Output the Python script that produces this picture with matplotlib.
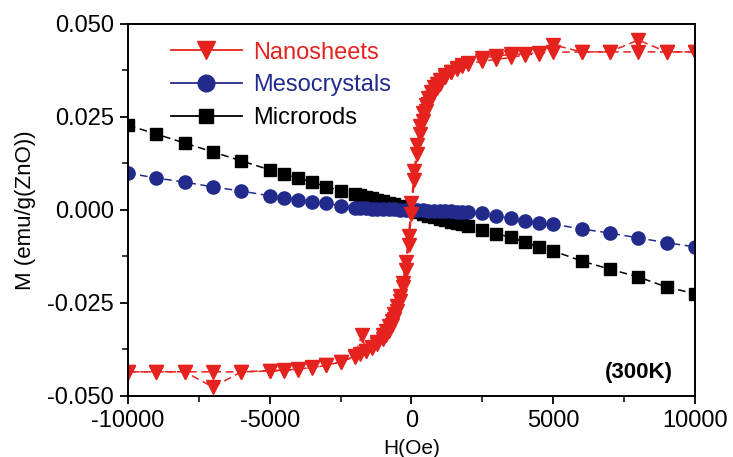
import matplotlib
matplotlib.use("Agg")
import matplotlib.pyplot as plt
from matplotlib.lines import Line2D
from matplotlib.ticker import MultipleLocator, FormatStrFormatter

plt.rcParams['font.family'] = ['Liberation Sans', 'DejaVu Sans']
plt.rcParams['axes.unicode_minus'] = False

# Nanosheets: descending branch then ascending branch
nano_h_down = [10000, 9000, 8000, 7000, 6000, 5000, 4500, 4000, 3500, 3000, 2500, 2000,
               1800, 1600, 1400, 1200, 1000, 900, 800, 700, 600, 500, 400, 300, 200, 100, 0,
               -100, -200, -300, -400, -500, -600, -700, -800, -900, -1000, -1200, -1400,
               -1600, -1800, -2000, -2500, -3000, -3500, -4000, -4500, -5000, -6000, -7000,
               -8000, -9000, -10000]
nano_m_down = [0.0425, 0.0425, 0.0457, 0.0425, 0.0425, 0.0444, 0.0420, 0.0417, 0.0410, 0.0405,
               0.0400, 0.0393, 0.0388, 0.0381, 0.0372, 0.0362, 0.0350, 0.0340, 0.0330, 0.0318,
               0.0302, 0.0283, 0.0260, 0.0225, 0.0175, 0.0105, 0.0020, -0.0070, -0.0140,
               -0.0195, -0.0232, -0.0258, -0.0280, -0.0298, -0.0313, -0.0326, -0.0337,
               -0.0355, -0.0368, -0.0378, -0.0386, -0.0395, -0.0408, -0.0418, -0.0424,
               -0.0429, -0.0432, -0.0433, -0.0435, -0.0476, -0.0435, -0.0435, -0.0435]
nano_h_up = [-10000, -9000, -8000, -7000, -6000, -5000, -4500, -4000, -3500, -3000, -2500,
             -2000, -1750, -1600, -1400, -1200, -1000, -900, -800, -700, -600, -500, -400,
             -300, -200, -100, 0, 100, 200, 300, 400, 500, 600, 700, 800, 900, 1000, 1200,
             1400, 1600, 1800, 2000, 2500, 3000, 3500, 4000, 4500, 5000, 6000, 7000, 8000,
             9000, 10000]
nano_m_up = [-0.0435, -0.0435, -0.0435, -0.0435, -0.0435, -0.0432, -0.0430, -0.0428, -0.0423,
             -0.0418, -0.0408, -0.0393, -0.0336, -0.0380, -0.0370, -0.0360, -0.0347, -0.0337,
             -0.0325, -0.0310, -0.0293, -0.0272, -0.0245, -0.0208, -0.0160, -0.0095, -0.0010,
             0.0080, 0.0150, 0.0203, 0.0240, 0.0265, 0.0285, 0.0302, 0.0316, 0.0328, 0.0340,
             0.0357, 0.0370, 0.0380, 0.0389, 0.0396, 0.0408, 0.0414, 0.0418, 0.0420, 0.0422,
             0.0424, 0.0425, 0.0425, 0.0425, 0.0425, 0.0425]

# Mesocrystals
meso_h = [-10000, -9000, -8000, -7000, -6000, -5000, -4500, -4000, -3500, -3000, -2500,
          -2000, -1800, -1600, -1400, -1200, -1000, -800, -600, -400, -200, 0,
          200, 400, 600, 800, 1000, 1200, 1400, 1600, 1800, 2000,
          2500, 3000, 3500, 4000, 4500, 5000, 6000, 7000, 8000, 9000, 10000]
meso_m = [0.0099, 0.0086, 0.0075, 0.0062, 0.0051, 0.0038, 0.0032, 0.0027, 0.0022, 0.0019, 0.0011,
          0.0006, 0.0005, 0.0005, 0.0004, 0.0004, 0.0003, 0.0003, 0.0002, 0.0001, 0.0001, 0.0,
          -0.0001, -0.0001, -0.0002, -0.0003, -0.0003, -0.0004, -0.0004, -0.0005, -0.0005, -0.0006,
          -0.0009, -0.0017, -0.0022, -0.0030, -0.0035, -0.0038, -0.0051, -0.0062, -0.0075,
          -0.0088, -0.0099]

# Microrods
micro_h = [-10000, -9000, -8000, -7000, -6000, -5000, -4500, -4000, -3500, -3000, -2500,
           -2000, -1800, -1600, -1400, -1200, -1000, -800, -600, -400, -200, 0,
           200, 400, 600, 800, 1000, 1200, 1400, 1600, 1800, 2000,
           2500, 3000, 3500, 4000, 4500, 5000, 6000, 7000, 8000, 9000, 10000]
micro_m = [0.0228, 0.0204, 0.0180, 0.0156, 0.0132, 0.0108, 0.0097, 0.0086, 0.0074, 0.0063, 0.0052,
           0.0043, 0.0039, 0.0035, 0.0031, 0.0027, 0.0023, 0.0019, 0.0015, 0.0010, 0.0005, 0.0,
           -0.0005, -0.0010, -0.0015, -0.0019, -0.0023, -0.0027, -0.0031, -0.0035, -0.0039, -0.0044,
           -0.0055, -0.0064, -0.0073, -0.0087, -0.0099, -0.0110, -0.0137, -0.0159, -0.0180,
           -0.0207, -0.0225]

labels = ['Nanosheets', 'Mesocrystals', 'Microrods']

RED = '#E5221E'
BLUE = '#222B8C'
BLACK = '#000000'
dash = (0, (5, 3))

fig = plt.figure(figsize=(7.33, 4.57), dpi=100)
ax = fig.add_axes([0.1746, 0.1335, 0.7734, 0.814])

ax.plot(micro_h, micro_m, color=BLACK, ls=dash, lw=1.1, marker='s', ms=8, mec=BLACK, mfc=BLACK)
ax.plot(meso_h, meso_m, color=BLUE, ls=dash, lw=1.1, marker='o', ms=9.5, mec=BLUE, mfc=BLUE)
ax.plot(nano_h_down, nano_m_down, color=RED, ls=dash, lw=1.1, marker='v', ms=10, mec=RED, mfc=RED)
ax.plot(nano_h_up, nano_m_up, color=RED, ls=dash, lw=1.1, marker='v', ms=10, mec=RED, mfc=RED)

ax.set_xlim(-10000, 10000)
ax.set_ylim(-0.05, 0.05)
ax.xaxis.set_major_locator(MultipleLocator(5000))
ax.xaxis.set_minor_locator(MultipleLocator(2500))
ax.yaxis.set_major_locator(MultipleLocator(0.025))
ax.yaxis.set_minor_locator(MultipleLocator(0.0125))
ax.yaxis.set_major_formatter(FormatStrFormatter('%.3f'))
ax.tick_params(which='major', direction='out', length=6, width=1.3, labelsize=17, pad=4)
ax.tick_params(which='minor', direction='out', length=4, width=1.1)
for s in ax.spines.values():
    s.set_linewidth(1.4)

ax.set_xlabel('H(Oe)', fontsize=15, labelpad=5)
ax.set_ylabel('M (emu/g(ZnO))', fontsize=16, labelpad=8)

ax.text(0.962, 0.062, '(300K)', transform=ax.transAxes, ha='right', va='center',
        fontsize=16, fontweight='bold')

handles = [
    Line2D([], [], color=RED, lw=1.3, marker='v', ms=13, mfc=RED, mec=RED),
    Line2D([], [], color=BLUE, lw=1.3, marker='o', ms=12, mfc=BLUE, mec=BLUE),
    Line2D([], [], color=BLACK, lw=1.3, marker='s', ms=10, mfc=BLACK, mec=BLACK),
]
leg = ax.legend(handles, labels, loc='upper left', bbox_to_anchor=(0.038, 1.01), frameon=False,
                fontsize=17, handlelength=3.0, handletextpad=0.5, labelspacing=0.45)
for txt, c in zip(leg.get_texts(), [RED, BLUE, BLACK]):
    txt.set_color(c)

fig.savefig('out.png', dpi=100)
